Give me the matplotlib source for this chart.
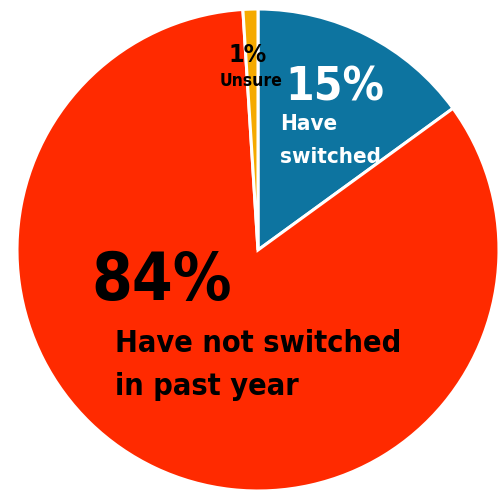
import matplotlib
matplotlib.use("Agg")
import matplotlib.pyplot as plt

# data
categories = ["Have switched", "Have not switched in past year", "Unsure"]
shares = [15, 84, 1]
colors = ["#0d74a0", "#ff2a00", "#f5aa00"]
pct_labels = ["15%", "84%", "1%"]
desc_labels = [["Have", "switched"], ["Have not switched", "in past year"], ["Unsure"]]

W, H = 502, 491
fig = plt.figure(figsize=(W / 100, H / 100), dpi=100)
ax = fig.add_axes([0, 0, 1, 1])

ax.pie(shares, colors=colors, startangle=90, counterclock=False,
       center=(258, H - 250), radius=241, frame=True,
       wedgeprops={"edgecolor": "white", "linewidth": 2.2})
ax.set_xlim(0, W)
ax.set_ylim(0, H)
ax.set_aspect("equal")
ax.axis("off")

font = ["DejaVu Sans", "Liberation Sans"]

def put(x, y, s, size, color, ha="left"):
    ax.text(x, H - y, s, fontsize=size, color=color, ha=ha, va="baseline",
            family=font, fontweight="bold", fontstretch="condensed")

# percent labels
put(285, 100, pct_labels[0], 33, "white")
put(91, 300, pct_labels[1], 47, "black")
put(248, 62, pct_labels[2], 18, "black", ha="center")

# descriptions
put(280, 130, desc_labels[0][0], 16, "white")
put(280, 163, desc_labels[0][1], 16, "white")
put(115, 352, desc_labels[1][0], 22, "black")
put(115, 395, desc_labels[1][1], 22, "black")
put(251, 86, desc_labels[2][0], 12.5, "black", ha="center")

fig.savefig("out.png", dpi=100)
